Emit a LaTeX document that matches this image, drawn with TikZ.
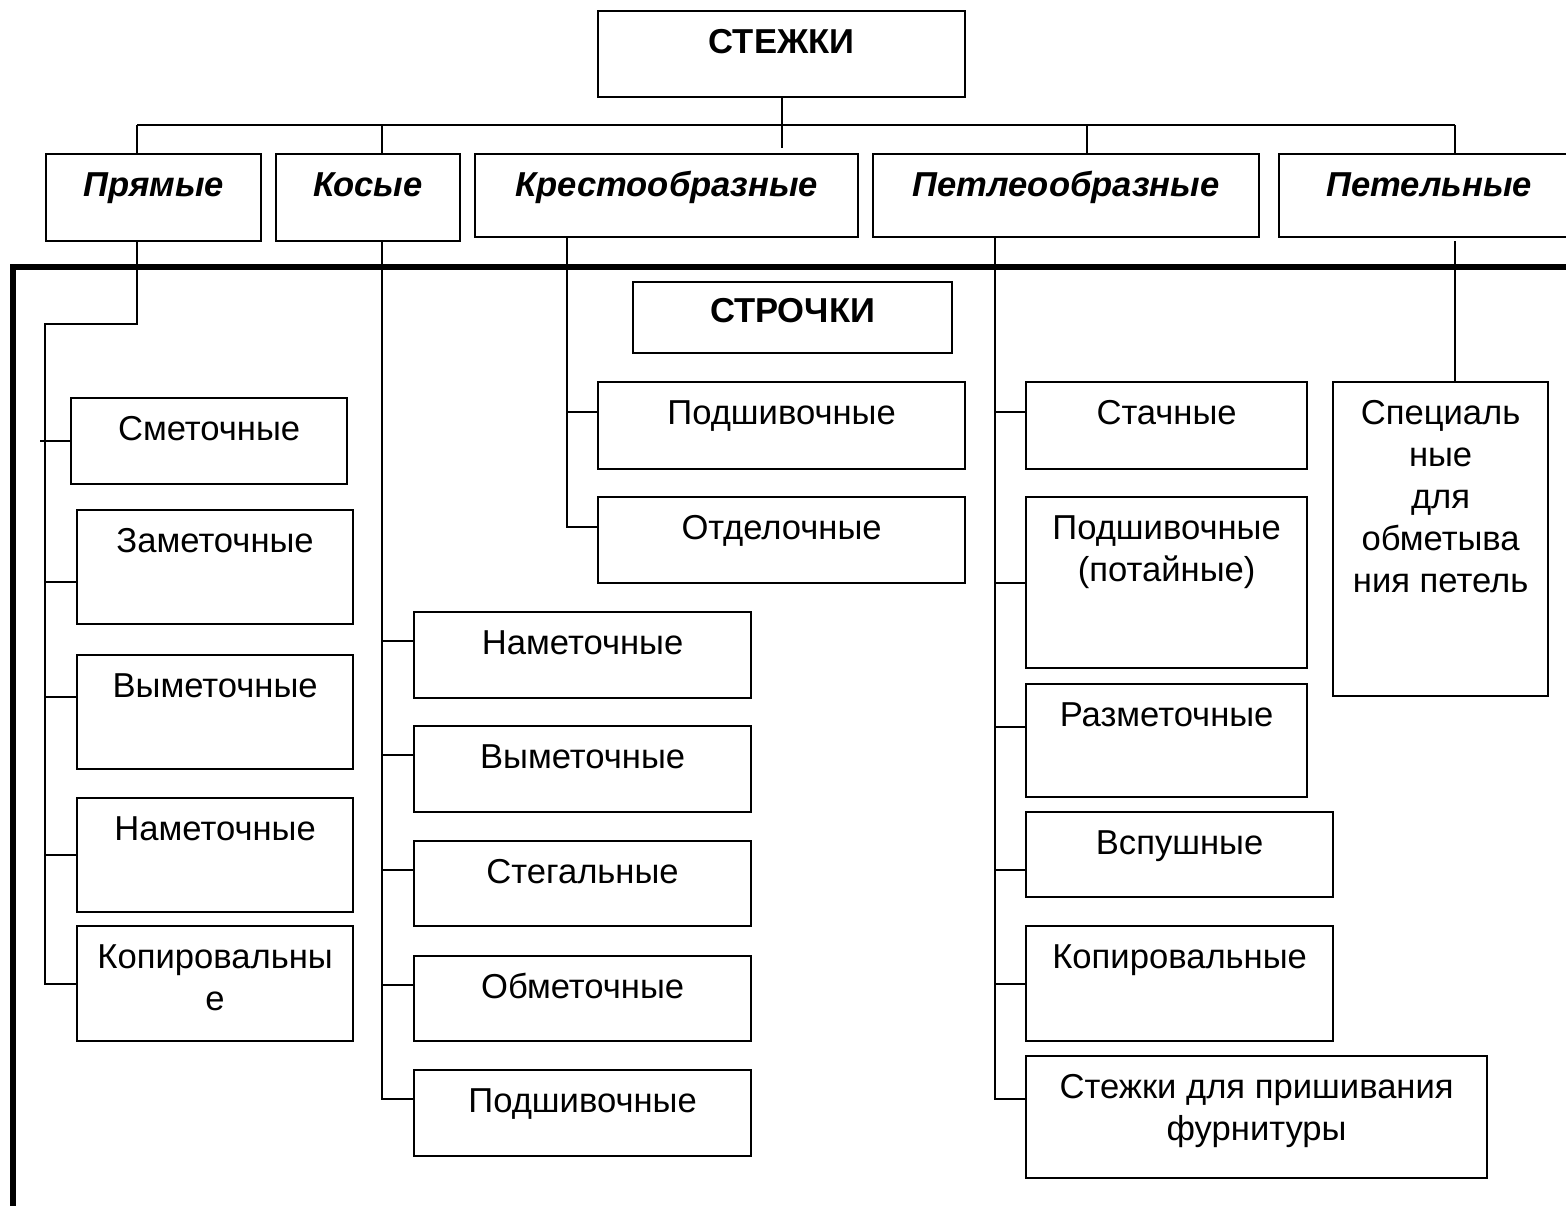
\documentclass[tikz,border=0pt]{standalone}
\usepackage{fontspec}
\setmainfont{Liberation Sans}
\usetikzlibrary{positioning}
\tikzset{
  sbox/.style={draw, line width=2.2pt, rectangle, anchor=north west,
    inner sep=0pt, align=center, text height=42pt,
    font=\fontsize{34.6}{42}\selectfont},
  kind/.style={sbox, font=\fontsize{34.6}{42}\selectfont\bfseries\itshape},
  head/.style={sbox, font=\fontsize{34.6}{42}\selectfont\bfseries},
  link/.style={line width=2pt},
}

\begin{document}
\begin{tikzpicture}[x=1pt, y=-1pt]
  \useasboundingbox (0,0) rectangle (1566,1205);
  \clip (0,0) rectangle (1566,1205);

  % kinds of stitches
  \node[head, minimum width=367pt, text depth=44pt] (stezhki) at (597,10) {СТЕЖКИ};
  \node[kind, minimum width=215pt, text depth=45pt] (prjam) at (45,153) {Прямые};
  \node[kind, minimum width=184pt, text depth=45pt] (kos) at (275,153) {Косые};
  \node[kind, minimum width=383pt, text depth=41pt] (krest) at (474,153) {Крестообразные};
  \node[kind, minimum width=386pt, text depth=41pt] (petleo) at (872,153) {Петлеообразные};
  \node[kind, minimum width=300pt, text depth=41pt] (petel) at (1278,153) {Петельные};

  \coordinate (dPr) at (137,125);
  \coordinate (dKos) at (382,125);
  \coordinate (dPtl) at (1087,125);
  \coordinate (dPet) at (1455,125);
  \draw[link] (dPr) -- (dPet);
  \draw[link, shorten >=5pt] (stezhki.south) -- (stezhki.south |- krest.north);
  \draw[link] (dPr) -- (dPr |- prjam.north);
  \draw[link] (dKos) -- (dKos |- kos.north);
  \draw[link] (dPtl) -- (dPtl |- petleo.north);
  \draw[link] (dPet) -- (dPet |- petel.north);

  % seams
  \draw[line width=6pt] (1570,267) -- (13,267) -- (13,1210);
  \node[head, minimum width=319pt, text height=40pt, text depth=31pt] (strochki) at (632,281) {СТРОЧКИ};

  % straight
  \node[sbox, minimum width=276pt, text depth=44pt] (smet) at (70,397) {Сметочные};
  \node[sbox, minimum width=276pt, text depth=72pt] (zamet) at (76,509) {Заметочные};
  \node[sbox, minimum width=276pt, text depth=72pt] (vymet1) at (76,654) {Выметочные};
  \node[sbox, minimum width=276pt, text depth=72pt] (namet1) at (76,797) {Наметочные};
  \node[sbox, minimum width=276pt, text height=84pt, text depth=31pt] (kopir1) at (76,925) {Копировальны\\е};

  \coordinate (prSpine) at (45,324);
  \draw[link] (dPr |- prjam.south) |- (prSpine) -- (prSpine |- kopir1.west) -- (kopir1.west);
  \draw[link] ([xshift=-5pt]prSpine |- smet.west) -- (smet.west);
  \draw[link] (prSpine) |- ([yshift=-15pt]zamet.west);
  \draw[link] (prSpine) |- ([yshift=15pt]vymet1.west);
  \draw[link] (prSpine) |- (namet1.west);

  % slanting
  \node[sbox, minimum width=337pt, text depth=44pt] (namet2) at (413,611) {Наметочные};
  \node[sbox, minimum width=337pt, text depth=44pt] (vymet2) at (413,725) {Выметочные};
  \node[sbox, minimum width=337pt, text depth=43pt] (stegal) at (413,840) {Стегальные};
  \node[sbox, minimum width=337pt, text depth=43pt] (obmet) at (413,955) {Обметочные};
  \node[sbox, minimum width=337pt, text depth=44pt] (podsh2) at (413,1069) {Подшивочные};

  \draw[link] (dKos |- kos.south) |- ([yshift=14pt]podsh2.west);
  \draw[link] (dKos |- kos.south) |- ([yshift=14pt]namet2.west);
  \draw[link] (dKos |- kos.south) |- ([yshift=14pt]vymet2.west);
  \draw[link] (dKos |- kos.south) |- ([yshift=14pt]stegal.west);
  \draw[link] (dKos |- kos.south) |- ([yshift=14pt]obmet.west);

  % cross
  \node[sbox, minimum width=367pt, text depth=45pt] (kpodsh) at (597,381) {Подшивочные};
  \node[sbox, minimum width=367pt, text depth=44pt] (kotdel) at (597,496) {Отделочные};

  \coordinate (krTop) at (567,236);
  \draw[link] (krTop) |- ([yshift=14pt]kpodsh.west);
  \draw[link] (krTop) |- ([yshift=13pt]kotdel.west);

  % loop-like
  \node[sbox, minimum width=281pt, text depth=45pt] (stach) at (1025,381) {Стачные};
  \node[sbox, minimum width=281pt, text height=84pt, text depth=87pt] (potain) at (1025,496) {Подшивочные\\(потайные)};
  \node[sbox, minimum width=281pt, text depth=71pt] (razmet) at (1025,683) {Разметочные};
  \node[sbox, minimum width=307pt, text depth=43pt] (vspush) at (1025,811) {Вспушные};
  \node[sbox, minimum width=307pt, text depth=73pt] (kopir2) at (1025,925) {Копировальные};
  \node[sbox, minimum width=461pt, text height=84pt, text depth=38pt] (furnit) at (1025,1055) {Стежки для пришивания\\фурнитуры};

  \coordinate (ptTop) at (995,236);
  \draw[link] (ptTop) |- ([yshift=18pt]furnit.west);
  \draw[link] (ptTop) |- ([yshift=14pt]stach.west);
  \draw[link] (ptTop) |- (potain.west);
  \draw[link] (ptTop) |- ([yshift=14pt]razmet.west);
  \draw[link] (ptTop) |- ([yshift=-15pt]vspush.west);
  \draw[link] (ptTop) |- (kopir2.west);

  % buttonhole
  \node[sbox, minimum width=215pt, text height=210pt, text depth=104pt] (spec) at (1332,381) {Специаль\\ные\\для\\обметыва\\ния петель};
  \draw[link] ([yshift=-3pt]dPet |- petel.south) -- (dPet |- spec.north);
\end{tikzpicture}
\end{document}
